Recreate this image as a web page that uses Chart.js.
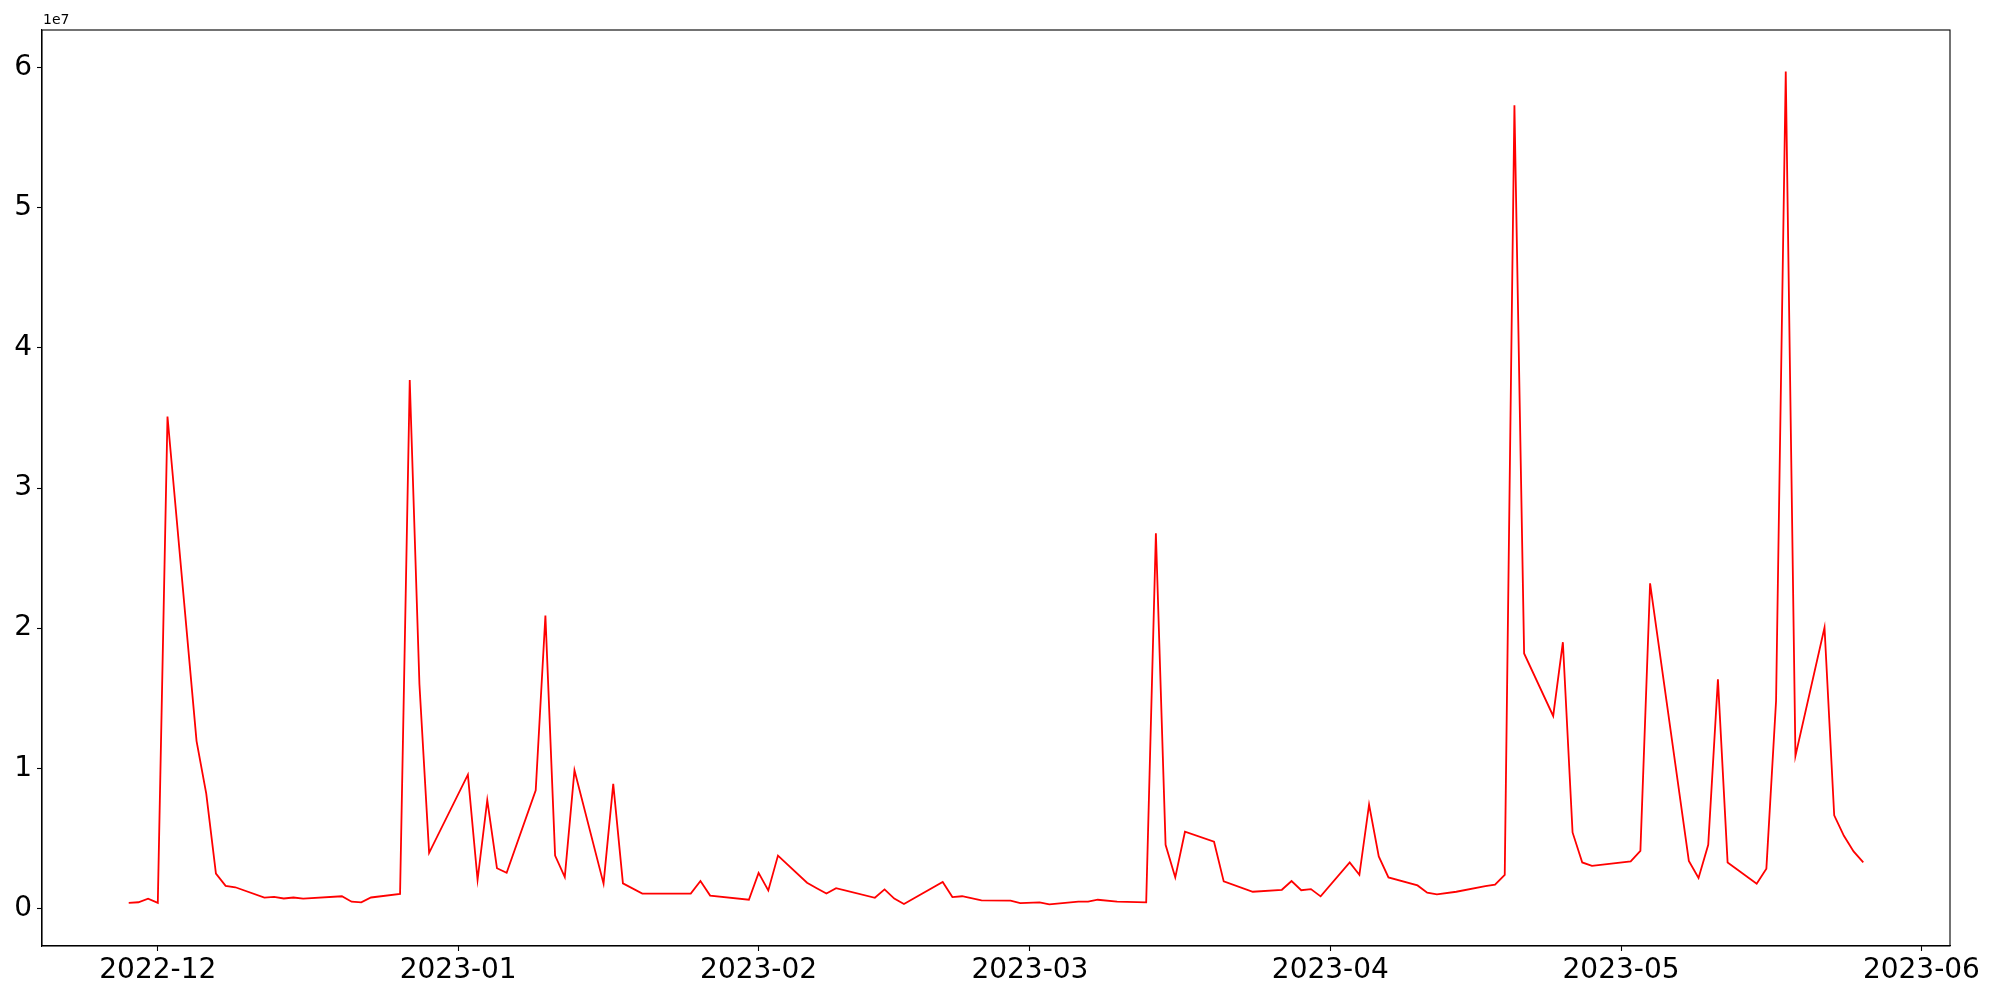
<!DOCTYPE html>
<html>
<head>
<meta charset="utf-8">
<script src="https://cdn.jsdelivr.net/npm/chart.js@4.4.0/dist/chart.umd.min.js"></script>
<style>
  html, body { margin: 0; padding: 0; background: #fff; }
  canvas { display: block; }
</style>
</head>
<body>
<canvas id="chart" width="2000" height="1000"></canvas>
<script>
// =============================
// DATA
// =============================

const dates = [
  "2022-11-28", "2022-11-29", "2022-11-30", "2022-12-01", "2022-12-02",
  "2022-12-05", "2022-12-06", "2022-12-07", "2022-12-08", "2022-12-09",
  "2022-12-12", "2022-12-13", "2022-12-14", "2022-12-15", "2022-12-16",
  "2022-12-20", "2022-12-21", "2022-12-22", "2022-12-23",
  "2022-12-26", "2022-12-27", "2022-12-28", "2022-12-29",
  "2023-01-02", "2023-01-03", "2023-01-04", "2023-01-05", "2023-01-06",
  "2023-01-09", "2023-01-10", "2023-01-11", "2023-01-12", "2023-01-13",
  "2023-01-16", "2023-01-17", "2023-01-18", "2023-01-20",
  "2023-01-25", "2023-01-26", "2023-01-27", "2023-01-31",
  "2023-02-01", "2023-02-02", "2023-02-03",
  "2023-02-06", "2023-02-07", "2023-02-08", "2023-02-09",
  "2023-02-13", "2023-02-14", "2023-02-15", "2023-02-16",
  "2023-02-20", "2023-02-21", "2023-02-22", "2023-02-24",
  "2023-02-27", "2023-02-28", "2023-03-02", "2023-03-03",
  "2023-03-06", "2023-03-07", "2023-03-08", "2023-03-10",
  "2023-03-13", "2023-03-14", "2023-03-15", "2023-03-16", "2023-03-17",
  "2023-03-20", "2023-03-21", "2023-03-24",
  "2023-03-27", "2023-03-28", "2023-03-29", "2023-03-30", "2023-03-31",
  "2023-04-03", "2023-04-04", "2023-04-05", "2023-04-06", "2023-04-07",
  "2023-04-10", "2023-04-11", "2023-04-12", "2023-04-14",
  "2023-04-17", "2023-04-18", "2023-04-19", "2023-04-20", "2023-04-21",
  "2023-04-24", "2023-04-25", "2023-04-26", "2023-04-27", "2023-04-28",
  "2023-05-02", "2023-05-03", "2023-05-04",
  "2023-05-08", "2023-05-09", "2023-05-10", "2023-05-11", "2023-05-12",
  "2023-05-15", "2023-05-16", "2023-05-17", "2023-05-18", "2023-05-19",
  "2023-05-22", "2023-05-23", "2023-05-24", "2023-05-25", "2023-05-26"
];

const volumes = [
  410000, 450000, 700000, 410000, 35100000,
  11950000, 8200000, 2500000, 1620000, 1520000,
  780000, 840000, 720000, 790000, 710000,
  880000, 490000, 440000, 790000,
  1040000, 37700000, 16000000, 3970000,
  9550000, 2050000, 7730000, 2880000, 2550000,
  8440000, 20900000, 3780000, 2250000, 9860000,
  1780000, 8900000, 1800000, 1070000,
  1070000, 1970000, 930000, 630000,
  2550000, 1290000, 3780000,
  1840000, 1450000, 1070000, 1450000,
  770000, 1370000, 710000, 330000,
  1890000, 820000, 880000, 580000,
  560000, 390000, 440000, 300000,
  490000, 490000, 630000, 490000,
  440000, 26770000, 4550000, 2220000, 5480000,
  4770000, 1940000, 1200000,
  1340000, 1960000, 1310000, 1390000, 870000,
  3290000, 2410000, 7420000, 3720000, 2220000,
  1650000, 1130000, 1010000, 1200000,
  1600000, 1700000, 2400000, 57300000, 18200000,
  13740000, 19000000, 5430000, 3290000, 3050000,
  3370000, 4120000, 23200000,
  3400000, 2180000, 4550000, 16350000, 3290000,
  1780000, 2850000, 14800000, 59700000, 10890000,
  20050000, 6650000, 5190000, 4080000, 3290000
];

const xTickDates = ["2022-12-01", "2023-01-01", "2023-02-01", "2023-03-01", "2023-04-01", "2023-05-01", "2023-06-01"];
const xTickLabels = ["2022-12", "2023-01", "2023-02", "2023-03", "2023-04", "2023-05", "2023-06"];
const yTicks = [0, 1e7, 2e7, 3e7, 4e7, 5e7, 6e7];
const yTickLabels = ["0", "1", "2", "3", "4", "5", "6"];
const offsetLabel = "1e7";

// =============================
// HELPERS
// =============================

const toMs = s => Date.parse(s + "T00:00:00Z");

const points = dates.map((d, i) => ({ x: toMs(d), y: volumes[i] }));

// matplotlib style 5% margins
const xs = points.map(p => p.x);
const ys = points.map(p => p.y);
const xLo = Math.min(...xs), xHi = Math.max(...xs);
const yLo = Math.min(...ys), yHi = Math.max(...ys);
const xPad = (xHi - xLo) * 0.05;
const yPad = (yHi - yLo) * 0.05;

const xTickValues = xTickDates.map(toMs);

const FONT = "DejaVu Sans";

// box around plot + "1e7" offset text
const framePlugin = {
  id: "frame",
  afterDraw(chart) {
    const { ctx, chartArea: a } = chart;
    ctx.save();
    ctx.strokeStyle = "#000";
    ctx.lineWidth = 1.1;
    ctx.strokeRect(a.left, a.top, a.right - a.left, a.bottom - a.top);
    ctx.fillStyle = "#000";
    ctx.font = `14px "${FONT}"`;
    ctx.textAlign = "left";
    ctx.textBaseline = "bottom";
    ctx.fillText(offsetLabel, a.left + 1, a.top - 3);
    ctx.restore();
  }
};

// =============================
// CHART
// =============================

new Chart(document.getElementById("chart"), {
  type: "line",
  data: {
    datasets: [{
      data: points,
      borderColor: "#ff0000",
      borderWidth: 1.8,
      pointRadius: 0,
      tension: 0,
      fill: false
    }]
  },
  options: {
    responsive: false,
    animation: false,
    devicePixelRatio: 1,
    layout: { padding: { left: 0, top: 30, right: 50, bottom: 0 } },
    plugins: {
      legend: { display: false },
      tooltip: { enabled: false }
    },
    scales: {
      x: {
        type: "linear",
        min: xLo - xPad,
        max: xHi + xPad,
        afterBuildTicks: axis => { axis.ticks = xTickValues.map(v => ({ value: v })); },
        afterFit: axis => { axis.height = 54; },
        ticks: {
          autoSkip: false,
          maxRotation: 0,
          padding: 3,
          color: "#000",
          font: { family: FONT, size: 28 },
          callback: v => xTickLabels[xTickValues.indexOf(v)]
        },
        grid: { drawOnChartArea: false, drawTicks: true, tickLength: 5, tickWidth: 1.1, tickColor: "#000" },
        border: { display: true, color: "#000", width: 1.1 }
      },
      y: {
        type: "linear",
        min: yLo - yPad,
        max: yHi + yPad,
        afterBuildTicks: axis => { axis.ticks = yTicks.map(v => ({ value: v })); },
        afterFit: axis => { axis.width = 42; },
        ticks: {
          padding: 5,
          color: "#000",
          font: { family: FONT, size: 28 },
          callback: v => yTickLabels[yTicks.indexOf(v)]
        },
        grid: { drawOnChartArea: false, drawTicks: true, tickLength: 5, tickWidth: 1.1, tickColor: "#000" },
        border: { display: true, color: "#000", width: 1.1 }
      }
    }
  },
  plugins: [framePlugin]
});
</script>
</body>
</html>
